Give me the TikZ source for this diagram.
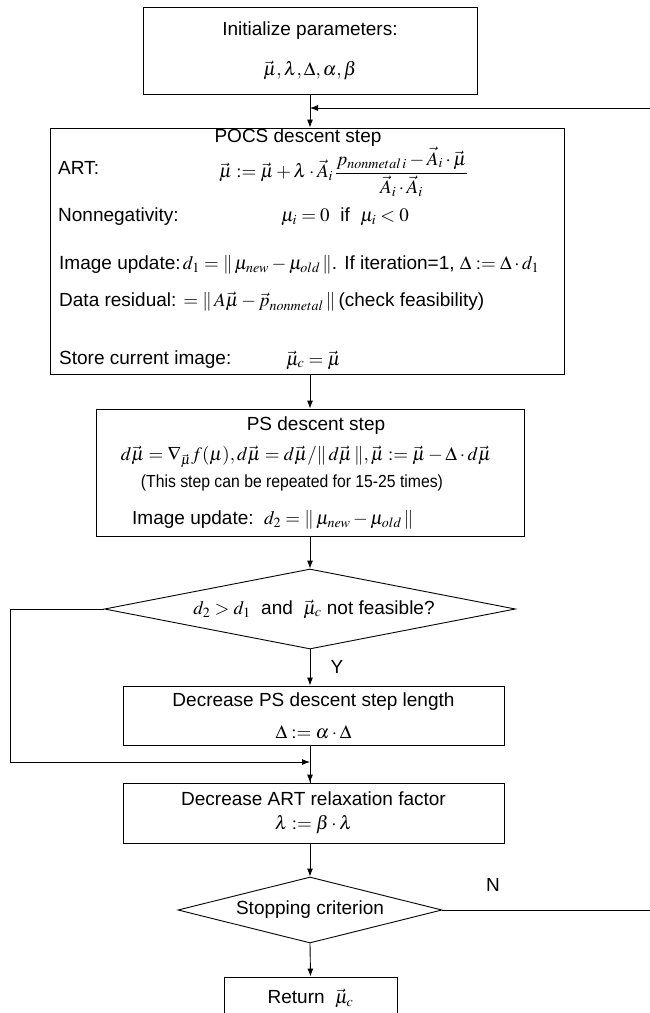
\documentclass[tikz,border=0pt]{standalone}
\usepackage{mathptmx}
\usepackage{fontspec}
\setmainfont{Liberation Sans}
\usetikzlibrary{arrows.meta,shapes.geometric}
\tikzset{
  box/.style={draw, line width=0.9pt, inner sep=0pt, align=center, font=\fontsize{19}{23}\selectfont},
  dia/.style={draw, diamond, line width=0.9pt, inner sep=0pt, font=\fontsize{19}{23}\selectfont},
  txt/.style={inner sep=0pt, font=\fontsize{19}{23}\selectfont},
  small/.style={inner sep=0pt, font=\fontsize{17.5}{20}\selectfont},
  arr/.style={line width=0.9pt, -{Latex[length=8pt,width=6pt]}},
  ln/.style={line width=0.9pt}
}
\begin{document}
\begin{tikzpicture}[x=1pt,y=-1pt]
\useasboundingbox (0,0) rectangle (649,1013);
% boxes
\node[box, minimum width=334pt, minimum height=87pt] (init) at (310,50.5)
  {Initialize parameters:\\[17pt]$\vec{\mu},\lambda,\Delta,\alpha,\beta$};
\node[box, minimum width=514pt, minimum height=246pt] (pocs) at (307,251) {};
\node[box, minimum width=428pt, minimum height=127pt] (ps) at (310,472.5) {};
\node[dia, minimum width=411pt, minimum height=80pt, shape aspect=5] (d1) at (310,609)
  {\hspace*{8pt}$d_2>d_1$~~and~~$\vec{\mu}_c$ not feasible?};
\node[box, minimum width=381pt, minimum height=59pt] (decps) at (313.5,715.5)
  {Decrease PS descent step length\\[9pt]$\Delta:=\alpha\cdot\Delta$};
\node[box, minimum width=381pt, minimum height=60pt] (decart) at (313.5,813)
  {Decrease ART relaxation factor\\[1pt]$\lambda:=\beta\cdot\lambda$};
\node[dia, minimum width=264pt, minimum height=66pt, shape aspect=3.5] (stop) at (310,910)
  {Stopping criterion};
\node[box, minimum width=173pt, minimum height=42pt] (ret) at (310.5,998)
  {Return~~$\vec{\mu}_c$};
% texts inside the POCS box
\node[txt] (t3) at (298,138) {POCS descent step};
\node[txt, anchor=west] (t4) at (58,168) {ART:};
\node[txt, anchor=west] (t5) at (219,172) {$\displaystyle \vec{\mu}:=\vec{\mu}+\lambda\cdot\vec{A}_i\,\frac{p_{nonmetal\,i}-\vec{A}_i\cdot\vec{\mu}}{\vec{A}_i\cdot\vec{A}_i}$};
\node[txt, anchor=west] (t6) at (58,217) {Nonnegativity:};
\node[txt, anchor=west] (t7) at (281,217) {$\mu_i=0$~~if~~$\mu_i<0$};
\node[txt, anchor=west] (t8) at (59,265) {Image update:$\,d_1=\|\,\mu_{new}-\mu_{old}\,\|$. If iteration=1, $\Delta:=\Delta\cdot d_1$};
\node[txt, anchor=west] (t9) at (59,302) {Data residual: $=\|\,A\vec{\mu}-\vec{p}_{nonmetal}\,\|$\,(check feasibility)};
\node[txt, anchor=west] (t10) at (59,360) {Store current image:};
\node[txt, anchor=west] (t11) at (286,360) {$\vec{\mu}_c=\vec{\mu}$};
% texts inside the PS box
\node[txt] (t12) at (316,426) {PS descent step};
\node[txt] (t13) at (306,457) {$d\vec{\mu}=\nabla_{\vec{\mu}}f(\mu),d\vec{\mu}=d\vec{\mu}/\|\,d\vec{\mu}\,\|,\vec{\mu}:=\vec{\mu}-\Delta\cdot d\vec{\mu}$};
\node[small, xscale=0.9] (t14) at (292,483) {(This step can be repeated for 15-25 times)};
\node[txt, anchor=west] (t15) at (132,520) {Image update:~~$d_2=\|\,\mu_{new}-\mu_{old}\,\|$};
% branch labels
\node[txt] (ylab) at (337,667) {Y};
\node[txt] (nlab) at (493,885) {N};
% connectors
\coordinate (fbA) at (651,910);
\coordinate (fbB) at (651,108);
\coordinate (fbC) at (310,108);
\coordinate (lpA) at (10,609);
\coordinate (lpB) at (10,762);
\coordinate (lpC) at (310,762);
\draw[arr] (init.south) -- (pocs.north -| init.south);
\draw[arr] (stop.east) -- (fbA) -- (fbB) -- (fbC);
\draw[arr] (pocs.south -| ps.north) -- (ps.north);
\draw[arr] (ps.south) -- (d1.north);
\draw[arr] (d1.south) -- (d1.south |- decps.north);
\draw[ln] (d1.south |- decps.south) -- (d1.south |- decart.north);
\draw[arr] (lpC) -- (d1.south |- decart.north);
\draw[arr] (d1.west) -- (lpA) -- (lpB) -- (lpC);
\draw[arr] (decart.south -| stop.north) -- (stop.north);
\draw[arr] (stop.south) -- (ret.north);
\end{tikzpicture}
\end{document}
